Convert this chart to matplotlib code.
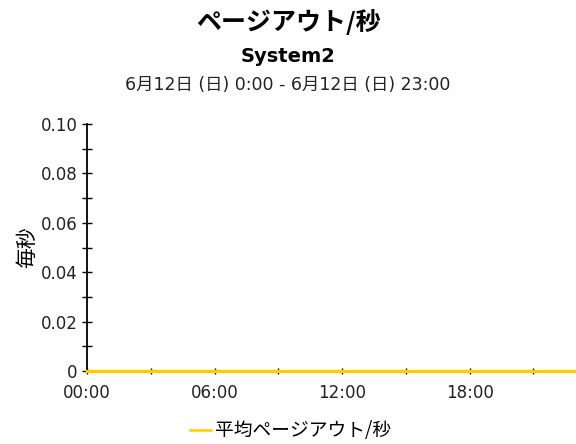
import numpy as np
import matplotlib.pyplot as plt
from matplotlib.lines import Line2D
from matplotlib.ticker import FixedLocator

plt.rcParams['font.family'] = ['DejaVu Sans', 'Noto Sans CJK JP']

# hourly averages for the day
hours = np.arange(0, 24)
pageouts = [0, 0, 0, 0, 0, 0, 0, 0, 0, 0, 0, 0,
            0, 0, 0, 0, 0, 0, 0, 0, 0, 0, 0, 0]
series_name = '平均ページアウト/秒'
x_major = [0, 6, 12, 18]
x_minor = [3, 9, 15, 21]
x_labels = ['00:00', '06:00', '12:00', '18:00']
y_major = [0, 0.02, 0.04, 0.06, 0.08, 0.10]
y_minor = [0.01, 0.03, 0.05, 0.07, 0.09]
y_labels = ['0', '0.02', '0.04', '0.06', '0.08', '0.10']

line_color = '#FFCC00'

fig = plt.figure(figsize=(5.76, 4.44), dpi=100)
ax = fig.add_axes([0.151, 0.164, 0.849, 0.557])

ax.plot(hours, pageouts, color=line_color, linewidth=2.4, clip_on=False, zorder=3)

ax.set_xlim(0, 23)
ax.set_ylim(0, 0.10)

ax.xaxis.set_major_locator(FixedLocator(x_major))
ax.xaxis.set_minor_locator(FixedLocator(x_minor))
ax.set_xticklabels(x_labels)
ax.yaxis.set_major_locator(FixedLocator(y_major))
ax.yaxis.set_minor_locator(FixedLocator(y_minor))
ax.set_yticklabels(y_labels)

ax.tick_params(which='both', direction='inout', width=1, labelsize=12, color='black',
               labelcolor='#222222')
ax.tick_params(axis='y', which='both', length=6.5, pad=3.5)
ax.tick_params(axis='x', which='both', length=5, pad=6.5)

for side in ['top', 'right']:
    ax.spines[side].set_visible(False)
ax.spines['left'].set_linewidth(1.3)
ax.spines['bottom'].set_linewidth(1.3)

ax.set_ylabel('毎秒', fontsize=15, labelpad=2, family=['Noto Sans CJK JP'])

# titles
fig.text(0.5, 0.951, 'ページアウト/秒', ha='center', va='center', fontsize=18,
         fontweight='bold', family=['Noto Sans CJK JP', 'DejaVu Sans'])
fig.text(0.5, 0.873, 'System2', ha='center', va='center', fontsize=14, fontweight='bold')
fig.text(0.5, 0.808, '6月12日 (日) 0:00 - 6月12日 (日) 23:00', ha='center', va='center',
         fontsize=12.5, color='#222222')

handle = Line2D([], [], color=line_color, linewidth=1.8)
fig.legend([handle], [series_name], loc='center', bbox_to_anchor=(0.505, 0.03),
           frameon=False, handlelength=1.1, handletextpad=0.25,
           prop={'family': ['Noto Sans CJK JP'], 'size': 13.5})

fig.savefig('out.png', dpi=100)
